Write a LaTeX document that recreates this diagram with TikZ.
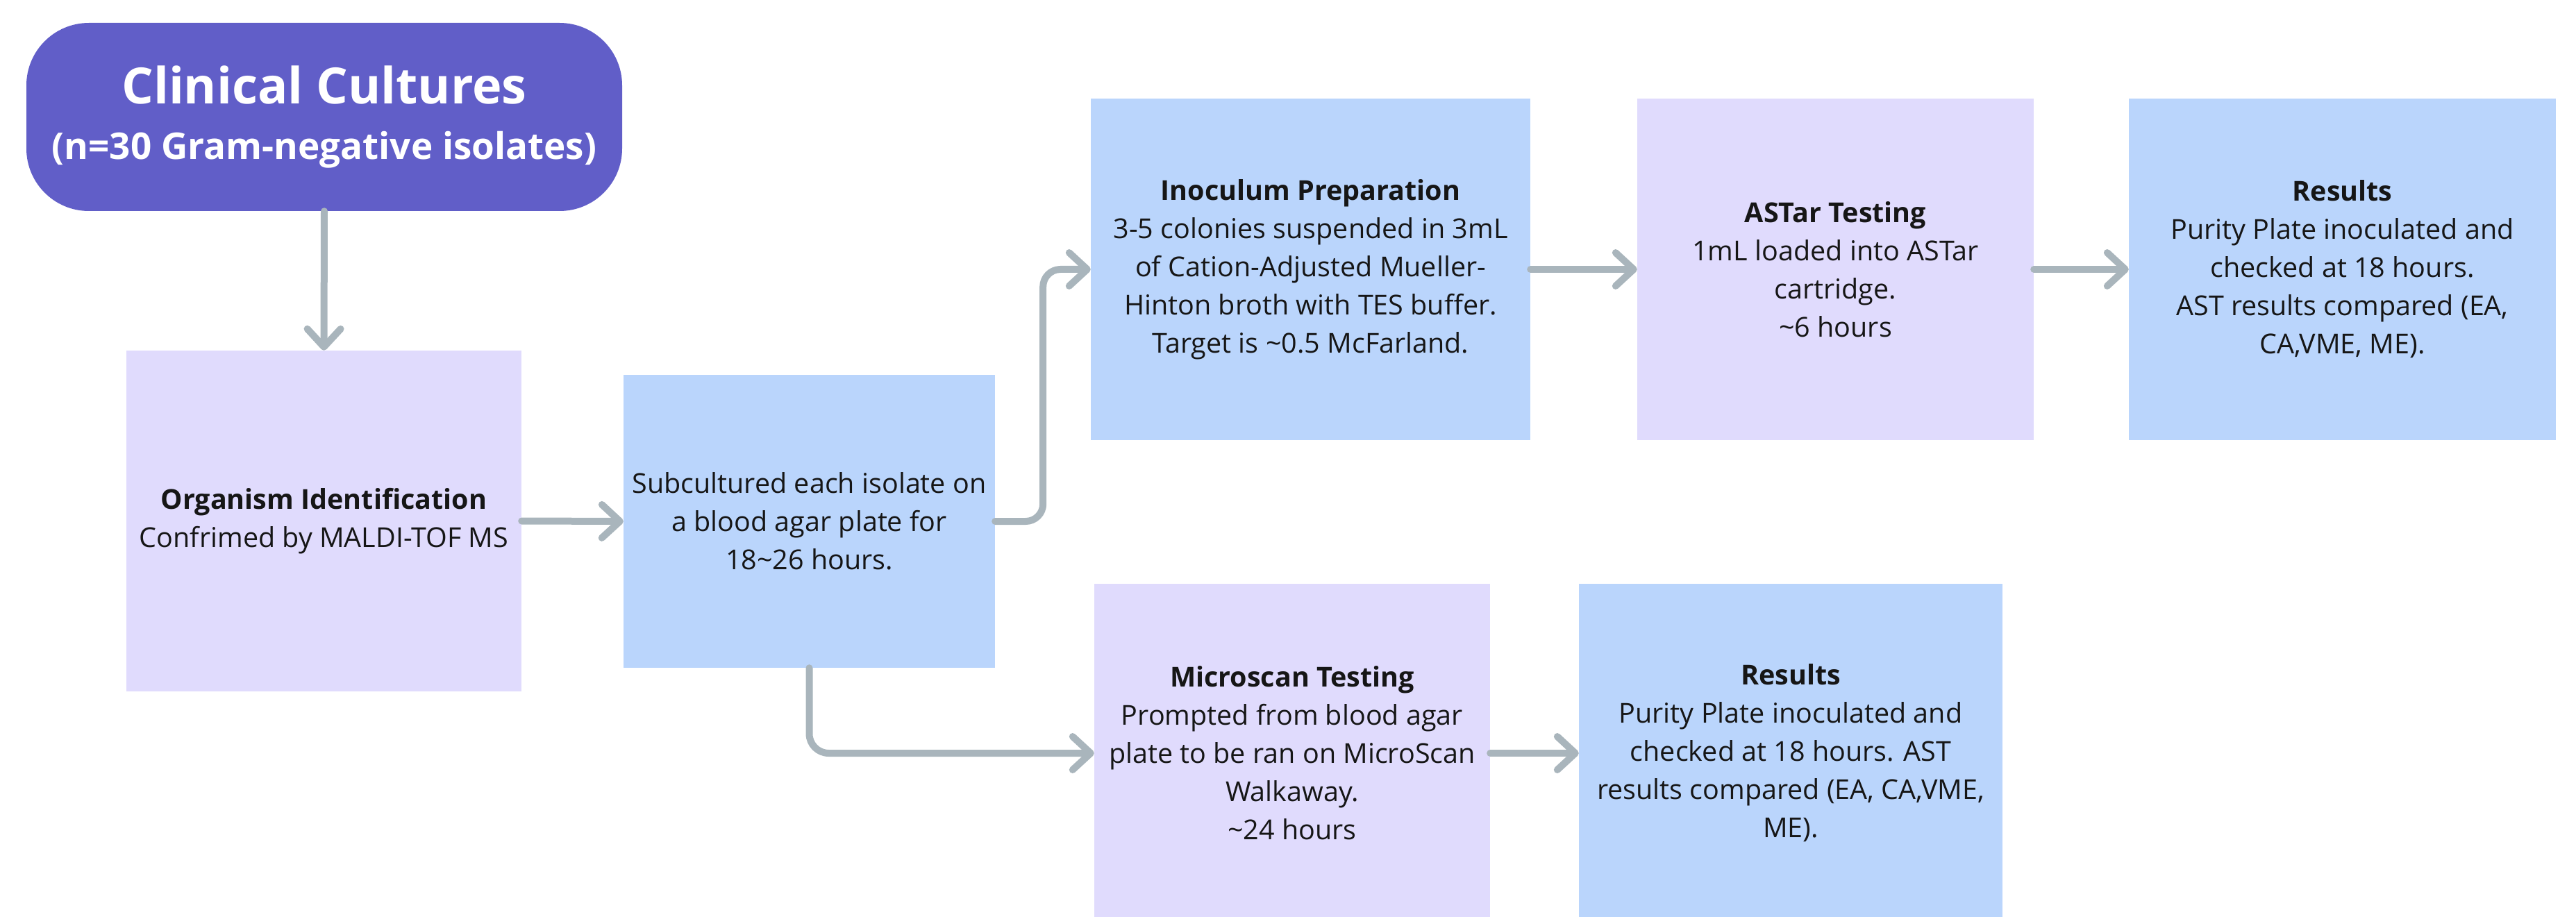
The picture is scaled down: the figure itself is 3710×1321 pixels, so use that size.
\documentclass[tikz,border=0pt]{standalone}
\usepackage{fontspec}
\setmainfont{Open Sans}
\usetikzlibrary{arrows.meta}
\definecolor{cpurple}{RGB}{97,94,200}
\definecolor{clav}{RGB}{224,219,253}
\definecolor{cblue}{RGB}{186,213,252}
\definecolor{cgrey}{RGB}{169,181,188}
\definecolor{ctext}{RGB}{22,22,22}
\begin{document}
\begin{tikzpicture}[x=1pt,y=-1pt,
  box/.style={rectangle, draw=none, align=center, text=ctext, inner sep=0pt,
    font=\fontsize{39.5pt}{55pt}\selectfont},
  lavbox/.style={box, fill=clav},
  bluebox/.style={box, fill=cblue},
  conn/.style={draw=cgrey, line width=10pt, line cap=round, line join=round,
    -{Straight Barb[length=26pt, width=48pt, round]}}]
\useasboundingbox (0,0) rectangle (3710,1321);
\clip (0,0) rectangle (3710,1321);

\node[rectangle, rounded corners=90pt, fill=cpurple, text=white, align=center,
  minimum width=858pt, minimum height=271pt, inner sep=0pt,
  font=\bfseries\fontsize{53pt}{80pt}\selectfont] (clin) at (467,168.5)
  {{\fontsize{72pt}{80pt}\selectfont Clinical Cultures}\\(n=30 Gram-negative isolates)};

\node[lavbox, minimum width=569pt, minimum height=491pt] (org) at (466.5,750.5)
  {\textbf{Organism Identification}\\Confrimed by MALDI-TOF MS};

\node[bluebox, minimum width=535pt, minimum height=422pt] (sub) at (1165.5,751)
  {Subcultured each isolate on\\a blood agar plate for\\18\textasciitilde26 hours.};

\node[bluebox, minimum width=633pt, minimum height=492pt] (inoc) at (1887.5,388)
  {\textbf{Inoculum Preparation}\\3-5 colonies suspended in 3mL\\of Cation-Adjusted Mueller-\\Hinton broth with TES buffer.\\Target is \textasciitilde0.5 McFarland.};

\node[lavbox, minimum width=571pt, minimum height=492pt] (astar) at (2643.5,388)
  {\textbf{ASTar Testing}\\1mL loaded into ASTar\\cartridge.\\\textasciitilde6 hours};

\node[bluebox, minimum width=615pt, minimum height=492pt] (res1) at (3373.5,388)
  {\textbf{Results}\\Purity Plate inoculated and\\checked at 18 hours.\\AST results compared (EA,\\CA,VME, ME).};

\node[lavbox, minimum width=570pt, minimum height=488pt] (micro) at (1861,1085)
  {\textbf{Microscan Testing}\\Prompted from blood agar\\plate to be ran on MicroScan\\Walkaway.\\\textasciitilde24 hours};

\node[bluebox, minimum width=610pt, minimum height=488pt] (res2) at (2579,1085)
  {\textbf{Results}\\Purity Plate inoculated and\\checked at 18 hours. AST\\results compared (EA, CA,VME,\\ME).};

\draw[conn] (clin.south) -- (org.north);
\draw[conn] (org.east) -- (sub.west);
\draw[conn, rounded corners=25pt] (sub.east) -- ++(69,0) |- (inoc.west);
\draw[conn, rounded corners=28pt] (sub.south) |- (micro.west);
\draw[conn] (inoc.east) -- (astar.west);
\draw[conn] (astar.east) -- (res1.west);
\draw[conn] (micro.east) -- (res2.west);
\end{tikzpicture}
\end{document}
